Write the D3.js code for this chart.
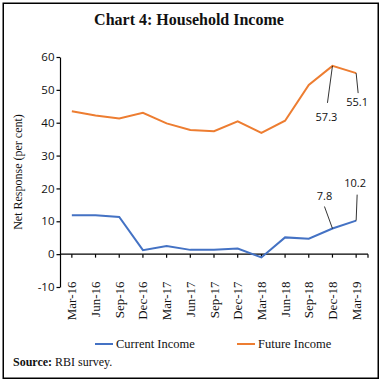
<!DOCTYPE html>
<html>
<head>
<meta charset="utf-8">
<script src="https://cdn.jsdelivr.net/npm/d3@7"></script>
<style>
    body { margin: 0; background: #fff; }
    svg text { fill: #111; }
</style>
</head>
<body>
<div id="chart"></div>
<script>
let quarters = ["Mar-16", "Jun-16", "Sep-16", "Dec-16", "Mar-17", "Jun-17", "Sep-17",
    "Dec-17", "Mar-18", "Jun-18", "Sep-18", "Dec-18", "Mar-19"];
let currentIncome = [11.8, 11.8, 11.3, 1.2, 2.5, 1.3, 1.3, 1.7, -1.0, 5.1, 4.7, 7.8, 10.2];
let futureIncome = [43.5, 42.2, 41.3, 43.0, 39.8, 37.8, 37.4, 40.4, 36.9, 40.6, 51.5, 57.3, 55.1];
let yTicks = [-10, 0, 10, 20, 30, 40, 50, 60];

// labelled points: series, index, offset of the text and of the leader line end
let callouts = [
    {series: futureIncome, i: 11, dx: -6, dy: 55, lx: -5, ly: 37},
    {series: futureIncome, i: 12, dx: 1, dy: 33, lx: 2, ly: 20},
    {series: currentIncome, i: 11, dx: -8, dy: -29, lx: -8, ly: -22},
    {series: currentIncome, i: 12, dx: -1, dy: -34, lx: 1, ly: -26}
];

let serif = "'Liberation Serif', 'DejaVu Serif', serif";
let sans = "'Open Sans', 'DejaVu Sans', sans-serif";

let width = 381, height = 382;

let svg = d3.select("#chart").append("svg")
    .attr("width", width)
    .attr("height", height);

svg.append("rect")
    .attr("x", 3.25).attr("y", 3.25)
    .attr("width", 375).attr("height", 375)
    .attr("fill", "none")
    .attr("stroke", "#000")
    .attr("stroke-width", 1.5);

svg.append("text")
    .attr("x", 189).attr("y", 25)
    .attr("text-anchor", "middle")
    .style("font-family", serif)
    .style("font-weight", "bold")
    .style("font-size", "16px")
    .text("Chart 4: Household Income");

let x = d3.scalePoint()
    .domain(quarters)
    .range([60, 368])
    .padding(0.5);

let y = d3.scaleLinear()
    .domain([-10, 60])
    .range([287, 57]);

// y axis
let yAxis = d3.axisLeft(y)
    .tickValues(yTicks)
    .tickFormat(d => String(d))
    .tickSize(3.5)
    .tickSizeOuter(0)
    .tickPadding(2);

let gy = svg.append("g")
    .attr("transform", "translate(60,0)")
    .call(yAxis);
gy.select(".domain").attr("stroke", "#000").attr("stroke-width", 1.2);
gy.selectAll(".tick line").attr("stroke", "#000").attr("stroke-width", 1.2);
gy.selectAll(".tick text")
    .style("font-family", sans)
    .style("font-size", "11.5px")
    .attr("fill", "#222");

// x axis on the zero line
let gx = svg.append("g")
    .attr("transform", "translate(0," + y(0) + ")");
gx.append("line")
    .attr("x1", x.range()[0]).attr("x2", x.range()[1])
    .attr("stroke", "#000").attr("stroke-width", 1.2);
gx.selectAll("line.tick")
    .data(quarters.map(q => x(q)).concat([x.range()[1]]))
    .enter().append("line")
    .attr("class", "tick")
    .attr("x1", d => d).attr("x2", d => d)
    .attr("y1", 0).attr("y2", 3.5)
    .attr("stroke", "#000").attr("stroke-width", 1.2);

svg.selectAll("text.xlabel")
    .data(quarters)
    .enter().append("text")
    .attr("class", "xlabel")
    .attr("transform", d => "translate(" + (x(d) + 4.5) + "," + 281.5 + ") rotate(-90)")
    .attr("text-anchor", "end")
    .style("font-family", serif)
    .style("font-size", "13px")
    .text(d => d);

svg.append("text")
    .attr("transform", "translate(22,172) rotate(-90)")
    .attr("text-anchor", "middle")
    .style("font-family", serif)
    .style("font-size", "12px")
    .text("Net Response (per cent)");

// lines
let line = d3.line()
    .x((d, i) => x(quarters[i]))
    .y(d => y(d));

svg.append("path")
    .datum(futureIncome)
    .attr("d", line)
    .attr("fill", "none")
    .attr("stroke", "#ED7D31")
    .attr("stroke-width", 2);

svg.append("path")
    .datum(currentIncome)
    .attr("d", line)
    .attr("fill", "none")
    .attr("stroke", "#4472C4")
    .attr("stroke-width", 2);

// callouts
callouts.forEach(function(c) {
    let px = x(quarters[c.i]), py = y(c.series[c.i]);
    svg.append("line")
        .attr("x1", px).attr("y1", py)
        .attr("x2", px + c.lx).attr("y2", py + c.ly)
        .attr("stroke", "#000").attr("stroke-width", 0.8);
    svg.append("text")
        .attr("x", px + c.dx).attr("y", py + c.dy)
        .attr("text-anchor", "middle")
        .style("font-family", sans)
        .style("font-size", "11px")
        .attr("fill", "#222")
        .text(c.series[c.i].toFixed(1));
});

// legend
let legend = [{name: "Current Income", color: "#4472C4", x: 95},
    {name: "Future Income", color: "#ED7D31", x: 237}];
let lg = svg.selectAll("g.legend")
    .data(legend)
    .enter().append("g")
    .attr("class", "legend")
    .attr("transform", d => "translate(" + d.x + ",344)");
lg.append("line")
    .attr("x1", 0).attr("x2", 18)
    .attr("stroke", d => d.color)
    .attr("stroke-width", 2);
lg.append("text")
    .attr("x", 21).attr("y", 4)
    .style("font-family", serif)
    .style("font-size", "12.5px")
    .text(d => d.name);

let src = svg.append("text")
    .attr("x", 13).attr("y", 366)
    .style("font-family", serif)
    .style("font-size", "12px");
src.append("tspan").style("font-weight", "bold").text("Source:");
src.append("tspan").text(" RBI survey.");
</script>
</body>
</html>
